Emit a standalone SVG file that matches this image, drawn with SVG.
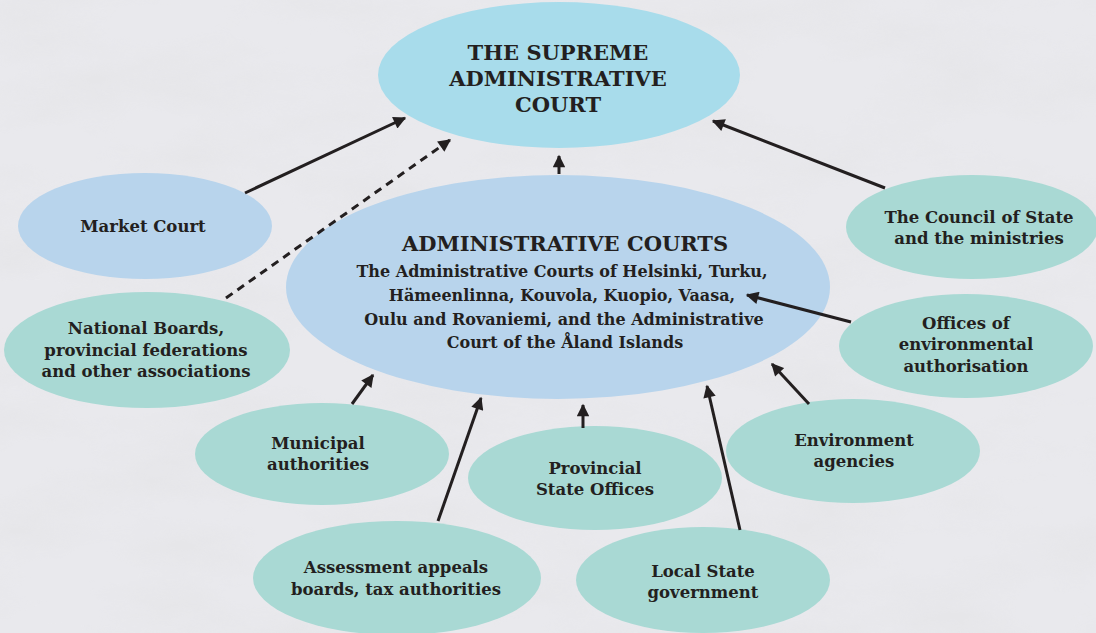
<svg xmlns="http://www.w3.org/2000/svg" width="1096" height="633" viewBox="0 0 1096 633">
<defs>
<style>
.teal{fill:#a9d9d4}
.blue{fill:#b8d4ec}
.sup{fill:#a8dceb}
text{font-family:"DejaVu Serif","Liberation Serif",serif;font-weight:bold;fill:#231f20;text-anchor:middle;dominant-baseline:central}
.n{font-size:16.5px}
.big{font-size:21px}
.sub{font-size:16px}
.c{stroke:#231f20;stroke-width:3;fill:none;marker-end:url(#ah)}
.d{stroke-dasharray:8 6}
</style>
<marker id="ah" viewBox="0 0 10 10" refX="9" refY="5" markerWidth="4.5" markerHeight="4.2" orient="auto" markerUnits="strokeWidth">
<path d="M0,0 L10,5 L0,10 z" fill="#231f20"/>
</marker>
<filter id="marble" x="0" y="0" width="100%" height="100%">
<feTurbulence type="fractalNoise" baseFrequency="0.008 0.018" numOctaves="5" seed="11"/>
<feColorMatrix type="matrix" values="0 0 0 0 0.78  0 0 0 0 0.78  0 0 0 0 0.8  2.4 0 0 0 -0.95"/>
</filter>
</defs>
<rect width="1096" height="633" fill="#e9e9ed"/>
<rect width="1096" height="633" filter="url(#marble)" opacity="0.55"/>

<g id="supreme">
<ellipse class="sup" cx="559" cy="75" rx="181" ry="73"/>
<text class="big" x="558" y="52">THE SUPREME</text>
<text class="big" x="558" y="78">ADMINISTRATIVE</text>
<text class="big" x="558" y="104">COURT</text>
</g>

<g id="admin">
<ellipse class="blue" cx="558" cy="287" rx="272" ry="112"/>
<text class="big" x="565" y="243">ADMINISTRATIVE COURTS</text>
<text class="sub" x="562" y="271">The Administrative Courts of Helsinki, Turku,</text>
<text class="sub" x="562" y="295">Hämeenlinna, Kouvola, Kuopio, Vaasa,</text>
<text class="sub" x="564" y="319">Oulu and Rovaniemi, and the Administrative</text>
<text class="sub" x="565" y="342">Court of the Åland Islands</text>
</g>

<g id="market">
<ellipse class="blue" cx="145" cy="226" rx="127" ry="53"/>
<text class="n" x="143" y="226">Market Court</text>
</g>

<g id="national">
<ellipse class="teal" cx="147" cy="350" rx="143" ry="58"/>
<text class="n" x="146" y="328">National Boards,</text>
<text class="n" x="146" y="350">provincial federations</text>
<text class="n" x="146" y="371">and other associations</text>
</g>

<g id="council">
<ellipse class="teal" cx="972" cy="227" rx="126" ry="52"/>
<text class="n" x="979" y="217">The Council of State</text>
<text class="n" x="979" y="238">and the ministries</text>
</g>

<g id="offices">
<ellipse class="teal" cx="966" cy="346" rx="127" ry="52"/>
<text class="n" x="966" y="323">Offices of</text>
<text class="n" x="966" y="344">environmental</text>
<text class="n" x="966" y="366">authorisation</text>
</g>

<g id="environment">
<ellipse class="teal" cx="853" cy="451" rx="127" ry="52"/>
<text class="n" x="854" y="440">Environment</text>
<text class="n" x="854" y="461">agencies</text>
</g>

<g id="municipal">
<ellipse class="teal" cx="322" cy="454" rx="127" ry="51"/>
<text class="n" x="318" y="443">Municipal</text>
<text class="n" x="318" y="464">authorities</text>
</g>

<g id="provincial">
<ellipse class="teal" cx="595" cy="478" rx="127" ry="52"/>
<text class="n" x="595" y="468">Provincial</text>
<text class="n" x="595" y="489">State Offices</text>
</g>

<g id="assessment">
<ellipse class="teal" cx="397" cy="578" rx="144" ry="57"/>
<text class="n" x="396" y="567">Assessment appeals</text>
<text class="n" x="396" y="589">boards, tax authorities</text>
</g>

<g id="local">
<ellipse class="teal" cx="703" cy="580" rx="127" ry="53"/>
<text class="n" x="703" y="571">Local State</text>
<text class="n" x="703" y="592">government</text>
</g>

<g id="connectors">
<line class="c" x1="245" y1="193" x2="405" y2="118"/>
<line class="c d" x1="226" y1="298" x2="450" y2="140"/>
<line class="c" x1="559" y1="174" x2="559" y2="156"/>
<line class="c" x1="885" y1="188" x2="713" y2="121"/>
<line class="c" x1="851" y1="322" x2="747" y2="295"/>
<line class="c" x1="809" y1="404" x2="772" y2="364"/>
<line class="c" x1="740" y1="530" x2="707" y2="386"/>
<line class="c" x1="583" y1="428" x2="583" y2="405"/>
<line class="c" x1="438" y1="521" x2="481" y2="398"/>
<line class="c" x1="352" y1="404" x2="373" y2="375"/>
</g>
</svg>
